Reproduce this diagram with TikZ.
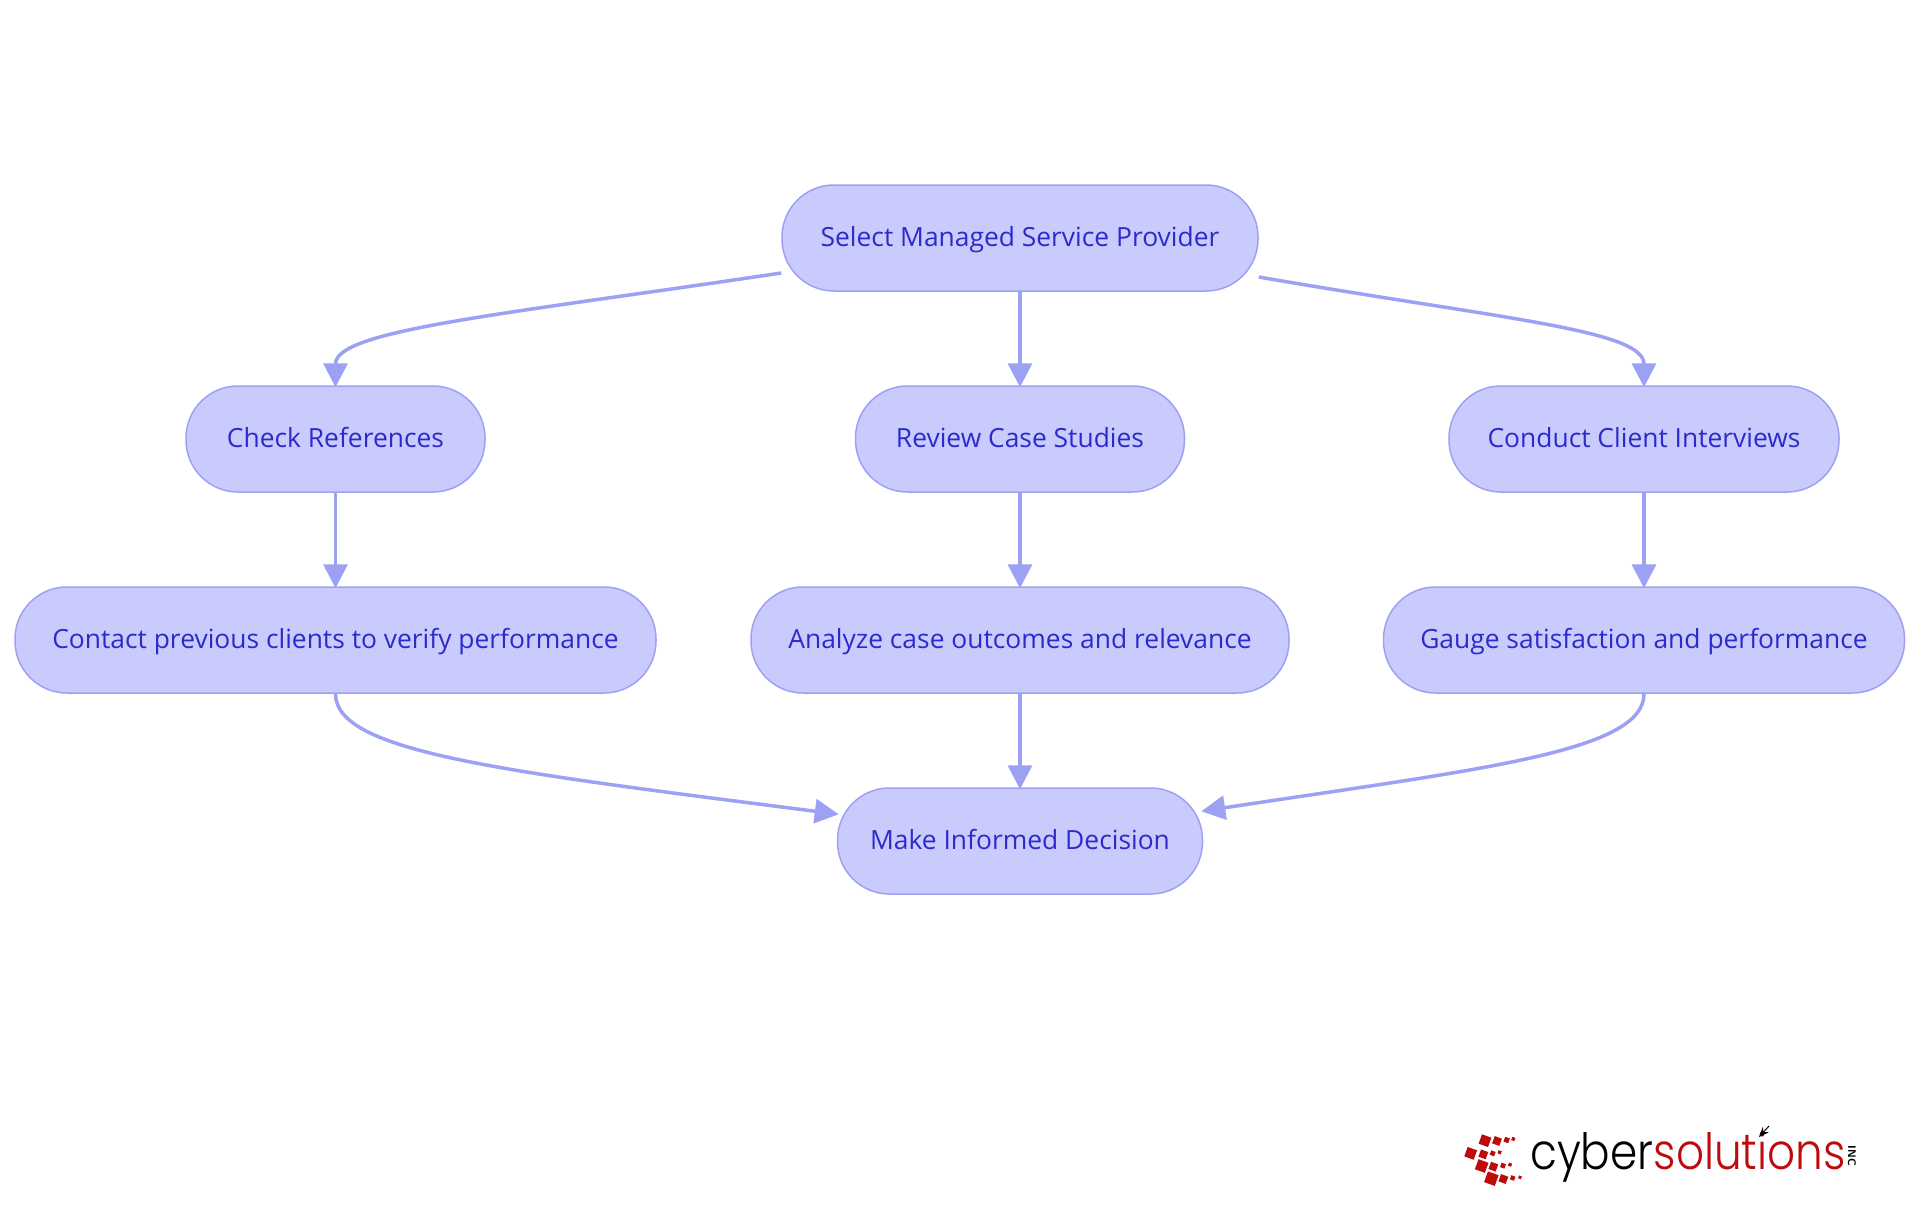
\documentclass[tikz,border=0pt]{standalone}
\usepackage{fontspec}
\usetikzlibrary{arrows.meta}
\setmainfont{Open Sans}
\newfontfamily\logofont{Poppins Light}
\definecolor{pillfill}{HTML}{C9CBFD}
\definecolor{pillline}{HTML}{9DA1F4}
\definecolor{pilltext}{HTML}{2B2BCB}
\definecolor{logored}{HTML}{BD0A0A}
\begin{document}
\begin{tikzpicture}[x=1pt,y=1pt,>={Triangle[length=24pt,width=24pt]},node distance=201pt,
    step node/.style={draw=pillline,fill=pillfill,line width=1.5pt,rounded corners=52pt,minimum height=106pt,text height=22pt,text depth=6pt,text=pilltext,font=\fontsize{26.4}{30}\selectfont},
    flow/.style={->,draw=pillline,line width=3.5pt,shorten >=-2pt},
    logo square/.style={fill=logored,inner sep=0pt,rotate=-20},
    logo text/.style={anchor=base west,inner sep=0pt,xscale=0.875,font=\logofont\fontsize{50}{50}\selectfont}]
    \useasboundingbox (0,0) rectangle (1920,-1215);

    \node[step node, minimum width=476pt] (select) at (1020,-238) {Select Managed Service Provider};
    \node[step node, minimum width=299pt] (check) [below of = select, xshift = -684.5]{Check References};
    \node[step node, minimum width=329pt] (review) [below of = select]{Review Case Studies};
    \node[step node, minimum width=390pt] (conduct) [below of = select, xshift = 624]{Conduct Client Interviews};
    \node[step node, minimum width=641pt] (contact) [below of = check]{Contact previous clients to verify performance};
    \node[step node, minimum width=538pt] (analyze) [below of = review]{Analyze case outcomes and relevance};
    \node[step node, minimum width=521pt] (gauge) [below of = conduct]{Gauge satisfaction and performance};
    \node[step node, minimum width=365pt] (decide) [below of = analyze]{Make Informed Decision};

    \draw[flow] ([yshift=-35pt]select.west) .. controls (500,-315) and (335.5,-330) .. (check.north);
    \draw[flow] (select) -- (review);
    \draw[flow] ([yshift=-39pt]select.east) .. controls (1502,-319) and (1644,-330) .. (conduct.north);
    \draw[flow] (check) -- (contact);
    \draw[flow] (review) -- (analyze);
    \draw[flow] (conduct) -- (gauge);
    \draw[flow] (contact.south) .. controls (335.5,-752) and (500,-771) .. ([yshift=27pt]decide.west);
    \draw[flow] (analyze) -- (decide);
    \draw[flow] (gauge.south) .. controls (1644,-752) and (1480,-769) .. ([yshift=30pt]decide.east);

    \foreach \i/\cx/\cy/\sz in {1/165/122/30,2/201/123/23,3/230/120/15,4/250/117/10,
        5/122/160/30,6/160/163/23,7/188/160/14,8/209/157/10,
        9/155/198/32,10/190/200/23,11/219/197/14,12/240/194/10,
        13/184/236/34,14/220/237/23,15/248/234/13,16/270/232/9}
        \node[logo square, minimum size=\sz/3] (square\i) at (1430+\cx/3,-1100-\cy/3) {};
    \node[logo text] (cyber) at (1530,-1169) {cyber};
    \node[logo text, text=logored] (solutions) at (cyber.base east) {solutions};
    \node[rotate=-90,inner sep=0pt,font=\sffamily\bfseries\fontsize{11}{11}\selectfont] (inc) at (1852,-1156) {INC};
    \coordinate (tail) at (1769,-1126);
    \coordinate (tip) at (1759,-1137);
    \draw[-{Stealth[length=10pt,width=8pt]},line width=1pt] (tail) -- (tip);
\end{tikzpicture}
\end{document}
